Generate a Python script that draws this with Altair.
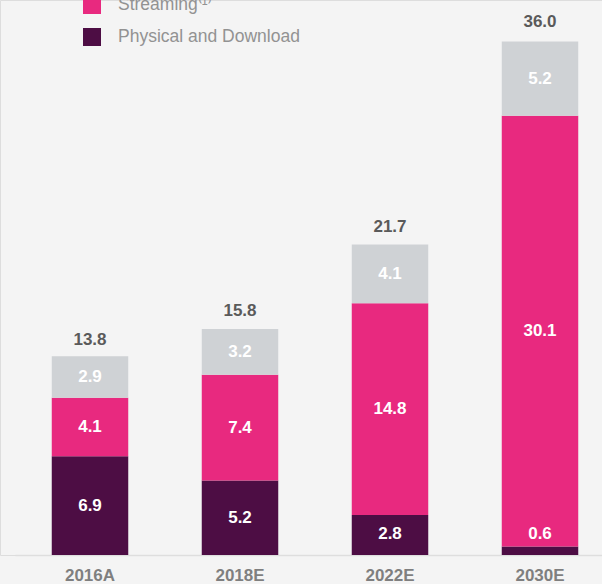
import altair as alt
import pandas as pd

years = ["2016A", "2018E", "2022E", "2030E"]
physical = [6.9, 5.2, 2.8, 0.6]
streaming = [4.1, 7.4, 14.8, 30.1]
other = [2.9, 3.2, 4.1, 5.2]
totals = [13.8, 15.8, 21.7, 36.0]
series = ["Performing Rights and Synch", "Streaming⁽¹⁾", "Physical and Download"]
colors = ["#cfd2d5", "#e8297f", "#4d0d44"]

rows = []
for i, yr in enumerate(years):
    base = 0.0
    for k, (name, vals) in enumerate([(series[2], physical), (series[1], streaming), (series[0], other)]):
        v = vals[i]
        rows.append(dict(year=yr, series=name, value=v, y0=base, y1=base + v, order=k,
                         mid=max(base + v / 2, 1.45), label=f"{v:.1f}"))
        base += v
df = pd.DataFrame(rows)
tot = pd.DataFrame(dict(year=years, total=totals, label=[f"{t:.1f}" for t in totals]))

xscale = alt.Scale(range=[15, 615], paddingInner=0.49, paddingOuter=0.245)
yscale = alt.Scale(domain=[0, 38.8])

x = alt.X("year:N", sort=years, scale=xscale,
          axis=alt.Axis(title=None, labelAngle=0, labelFontSize=17, labelFontWeight="bold",
                        labelColor="#7f7f7f", ticks=False, domainColor="#dedede", domainWidth=1.5,
                        labelPadding=12))

bars = alt.Chart(df).mark_bar().encode(
    x=x,
    y=alt.Y("y0:Q", scale=yscale, axis=None),
    y2="y1:Q",
    color=alt.Color("series:N", scale=alt.Scale(domain=series, range=colors),
                    legend=alt.Legend(title=None, orient="none", legendX=83, legendY=-4,
                                      values=series[1:],
                                      padding=0, symbolType="square", symbolSize=324,
                                      symbolStrokeWidth=0, labelFontSize=17.5, labelLimit=400,
                                      labelColor="#929292", rowPadding=14, labelOffset=17)),
    order="order:Q",
)

seg_text = alt.Chart(df).mark_text(color="white", fontWeight="bold", fontSize=17,
                                   baseline="middle").encode(
    x=alt.X("year:N", sort=years, scale=xscale),
    y=alt.Y("mid:Q", scale=yscale),
    text="label:N",
)

tot_text = alt.Chart(tot).mark_text(color="#5a5a5a", fontWeight="bold", fontSize=17,
                                    baseline="middle", dy=-18).encode(
    x=alt.X("year:N", sort=years, scale=xscale),
    y=alt.Y("total:Q", scale=yscale),
    text="label:N",
)

chart = alt.layer(bars, seg_text, tot_text).properties(
    width=602, height=555,
    autosize=alt.AutoSizeParams(type="none"),
    padding={"left": 0, "top": 0, "right": 0, "bottom": 29},
    background="#f4f4f4",
).configure_view(stroke=None).configure(font="Liberation Sans")

chart.save("out.html", embed_options={"renderer": "svg", "actions": False})
